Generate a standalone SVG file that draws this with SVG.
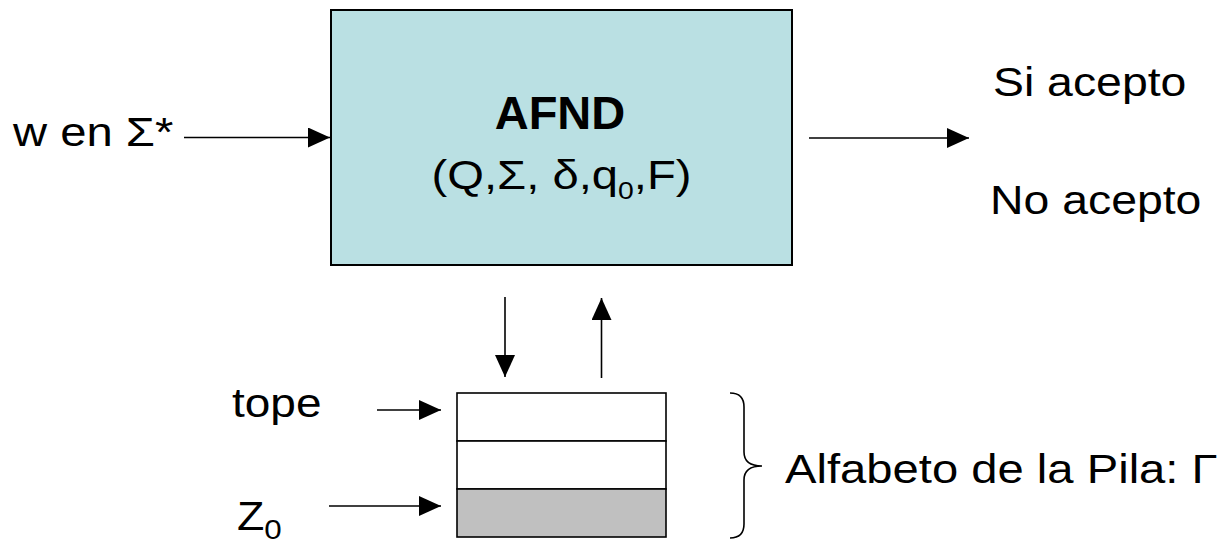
<svg xmlns="http://www.w3.org/2000/svg" width="1228" height="547" viewBox="0 0 1228 547">
<defs>
<style>
text{font-family:"Liberation Sans",Arial,sans-serif;font-size:40px;fill:#000}
.b{font-weight:bold;font-size:47px}
.sub{font-size:24px}
.subz{font-size:28px}
.conn line{stroke:#000;stroke-width:1.6;fill:none}
.box{fill:#BAE0E3;stroke:#000;stroke-width:2}
.cell{fill:#fff;stroke:#000;stroke-width:1.6}
.cellz{fill:#C0C0C0;stroke:#000;stroke-width:1.6}
.brace{fill:none;stroke:#000;stroke-width:1.6}
</style>
<marker id="ah" viewBox="0 0 22 20" refX="22" refY="10" markerWidth="22" markerHeight="20" markerUnits="userSpaceOnUse" orient="auto">
<path d="M0,0 L22,10 L0,20 z" fill="#000"/>
</marker>
</defs>
<rect width="1228" height="547" fill="#fff"/>
<g id="afnd">
<rect class="box" x="331" y="10" width="461" height="255"/>
<text class="b" x="560" y="129" text-anchor="middle">AFND</text>
<text transform="translate(561.5,189) scale(1.18,1)" text-anchor="middle">(Q,Σ, δ,q<tspan class="sub" dy="10">0</tspan><tspan dy="-10">,F)</tspan></text>
</g>
<g id="input">
<text transform="translate(13,146) scale(1.18,1)">w en Σ*</text>
</g>
<g id="output">
<text transform="translate(993,96) scale(1.16,1)">Si acepto</text>
<text transform="translate(990,214) scale(1.16,1)">No acepto</text>
</g>
<g id="stack">
<rect class="cell" x="457" y="393" width="209" height="48"/>
<rect class="cell" x="457" y="441" width="209" height="48"/>
<rect class="cellz" x="457" y="489" width="209" height="48"/>
</g>
<g id="tope">
<text transform="translate(232,417) scale(1.15,1)">tope</text>
</g>
<g id="z0">
<text transform="translate(237,530) scale(1.12,1)">Z<tspan class="subz" dy="9">0</tspan></text>
</g>
<g id="alfabeto">
<path class="brace" d="M730,393 Q744,393 744,407 L744,452 Q744,466 762,466 Q744,466 744,480 L744,524 Q744,538 730,538"/>
<text transform="translate(785,483) scale(1.18,1)">Alfabeto de la Pila: Γ</text>
</g>
<g id="connectors" class="conn">
<line x1="184" y1="137.5" x2="330" y2="137.5" marker-end="url(#ah)"/>
<line x1="809" y1="138" x2="969" y2="138" marker-end="url(#ah)"/>
<line x1="505" y1="297" x2="505" y2="377" marker-end="url(#ah)"/>
<line x1="601.5" y1="378" x2="601.5" y2="298" marker-end="url(#ah)"/>
<line x1="377" y1="410" x2="441" y2="410" marker-end="url(#ah)"/>
<line x1="329" y1="506" x2="441" y2="506" marker-end="url(#ah)"/>
</g>
</svg>
